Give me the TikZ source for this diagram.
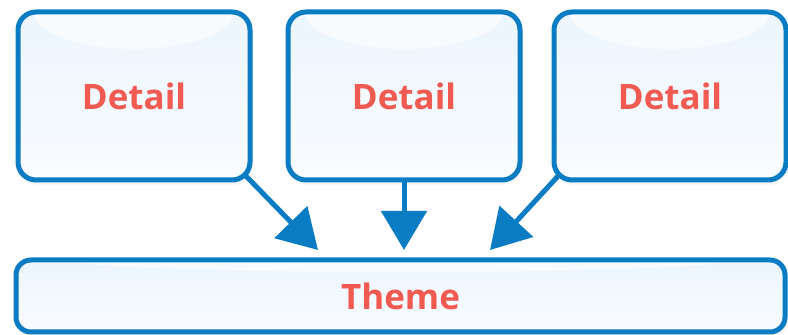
\documentclass[tikz,border=0pt]{standalone}
\usepackage{fontspec}
\setmainfont{Open Sans}
\usetikzlibrary{arrows.meta,backgrounds,shadows.blur}
\definecolor{edgeblue}{RGB}{10,124,196}
\definecolor{textred}{RGB}{240,90,80}
\definecolor{glasstop}{RGB}{236,245,253}
\definecolor{glassmid}{RGB}{211,229,245}
\definecolor{glassbot}{RGB}{249,252,255}

\begin{document}
\begin{tikzpicture}[x=1pt,y=1pt,
   glass/.style n args={4}{draw=edgeblue,line width=5pt,rounded corners=#3,minimum width=#1,minimum height=#2,
      top color=glasstop,middle color=glassmid,bottom color=glassbot,text=textred,
      font=\bfseries\fontsize{35}{35}\selectfont,
      blur shadow={shadow xshift=1pt,shadow yshift=-2pt,shadow opacity=15,shadow blur radius=4pt},
      path picture={\fill[white,opacity=0.6] (path picture bounding box.north) ellipse[x radius=0.43*#1,y radius=#4];}},
   link/.style={edgeblue,line width=5pt,-{Triangle[length=39pt,width=45pt]}}]
\useasboundingbox (0,0) rectangle (788,335);
% detail boxes
\foreach \x/\n in {134/d1,404/d2,670/d3} {
   \node[glass={232pt}{168pt}{18pt}{37pt}] (\n) at (\x,239) {Detail};
}
\node[glass={769pt}{72pt}{15pt}{12pt}] (theme) at (400.5,39) {Theme};
\coordinate (tip1) at (318,85);
\coordinate (tip2) at (404,85);
\coordinate (tip3) at (490,85);
\begin{scope}[on background layer]
\draw[link] ([shift={(-8,8)}]d1.south east) -- (tip1);
\draw[link] (d2.south) -- (tip2);
\draw[link] ([shift={(8,8)}]d3.south west) -- (tip3);
\end{scope}
\end{tikzpicture}
\end{document}
